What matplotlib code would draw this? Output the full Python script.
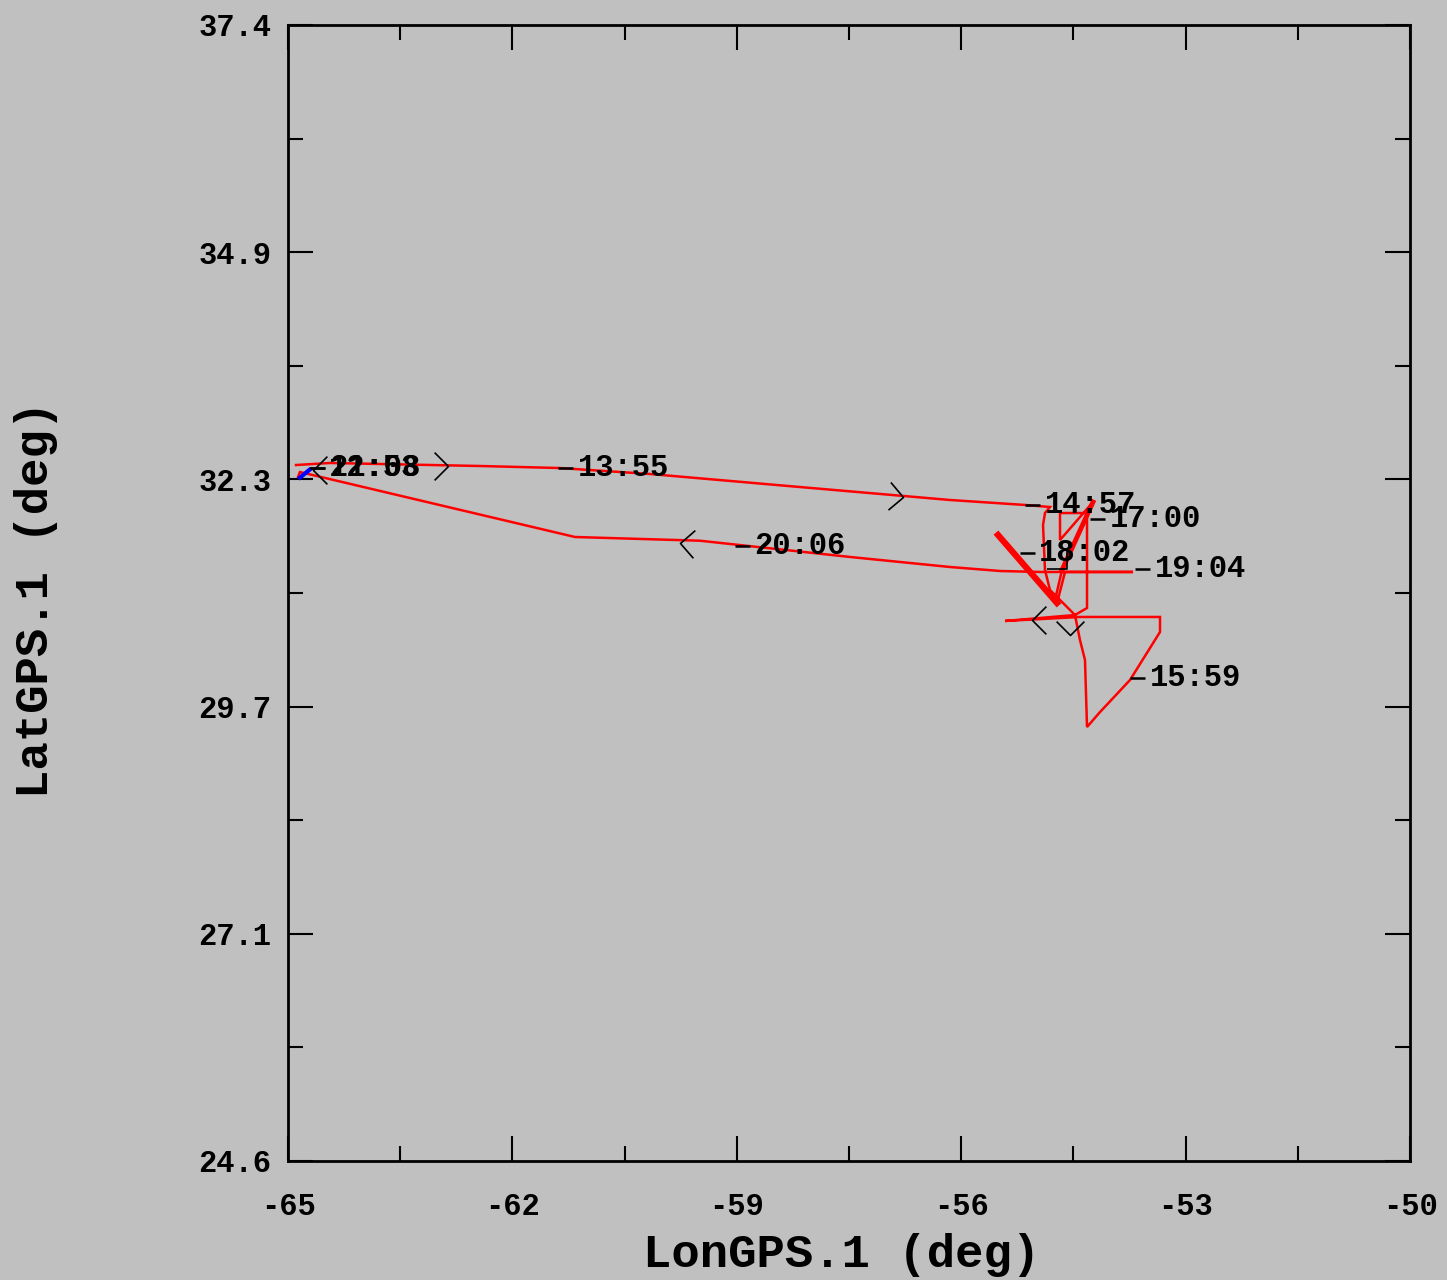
import numpy as np
import matplotlib
matplotlib.use("Agg")
import matplotlib.pyplot as plt
from matplotlib.path import Path
from matplotlib.markers import MarkerStyle
from matplotlib.transforms import Affine2D

# ---------------- data ----------------
track_lon = [-64.893, -64.439, -62.433, -61.364, -60.160, -58.155, -56.150, -55.147, -54.813,
             -54.880, -54.906, -54.880, -54.813, -54.612, -54.479, -54.412, -54.345, -54.318,
             -54.144, -53.743, -53.342, -53.342, -54.412, -55.414, -54.479, -54.318, -54.318,
             -54.679, -54.679, -54.238, -54.652, -54.746, -55.508, -54.719, -54.612, -53.703,
             -54.947, -55.481, -56.150, -57.487, -59.492, -61.163, -64.840, -64.866]
track_lat = [32.442, 32.465, 32.431, 32.408, 32.341, 32.194, 32.048, 31.992, 31.969,
             31.901, 31.766, 31.259, 31.034, 30.865, 30.752, 30.470, 30.245, 29.490,
             29.659, 30.020, 30.561, 30.730, 30.730, 30.685, 30.752, 30.831, 31.901,
             31.901, 31.597, 32.025, 31.259, 30.921, 31.654, 30.887, 31.237, 31.237,
             31.237, 31.248, 31.293, 31.406, 31.589, 31.631, 32.363, 32.307]

# heavily overlapped (thick) portions of the track
dense1_lon = [-55.508, -54.719]
dense1_lat = [31.654, 30.887]
dense2_lon = [-54.238, -54.652]
dense2_lat = [32.025, 31.259]

# short blue segment at start
blue_lon = [-64.84, -64.71]
blue_lat = [32.30, 32.39]

# time labels (position of the tick dash)
time_labels = ["12:53", "21:08", "13:55", "14:57", "15:59", "17:00", "18:02", "19:04", "20:06"]
time_lon = [-64.706, -64.706, -61.39, -55.147, -53.743, -54.278, -55.214, -53.676, -59.024]
time_lat = [32.408, 32.408, 32.408, 31.992, 30.042, 31.834, 31.451, 31.270, 31.530]

# direction chevrons (apex position, heading in degrees)
arrow_lon = [-56.778, -62.861, -64.666, -59.759, -55.053, -54.545, -54.585]
arrow_lat = [32.082, 32.431, 32.386, 31.563, 30.696, 30.527, 31.270]
arrow_dir = [-5, 0, 180, 176, 180, -90, -45]

x_ticks = [-65, -62, -59, -56, -53, -50]
x_ticklabels = ["-65", "-62", "-59", "-56", "-53", "-50"]
y_ticklabels = ["24.6", "27.1", "29.7", "32.3", "34.9", "37.4"]
y_ticks = list(np.linspace(24.6, 37.4, 6))

# ---------------- figure ----------------
BG = "#c0c0c0"
FONT = "Liberation Mono"
fig = plt.figure(figsize=(14.47, 12.8), dpi=100, facecolor=BG)
ax = fig.add_axes([288/1447, 1 - 1161/1280, 1122/1447, 1136/1280])
ax.set_facecolor(BG)

ax.plot(track_lon, track_lat, color="#ff0000", lw=1.8, solid_joinstyle="miter", zorder=3)
ax.plot(dense1_lon, dense1_lat, color="#ff0000", lw=4.5, zorder=3)
ax.plot(dense2_lon, dense2_lat, color="#ff0000", lw=3.5, zorder=3)
ax.plot(blue_lon, blue_lat, color="#0000ff", lw=3, zorder=4)

# chevrons
chev = Path([(-1, 1), (0, 0), (-1, -1)], [Path.MOVETO, Path.LINETO, Path.LINETO])
for lo, la, d in zip(arrow_lon, arrow_lat, arrow_dir):
    m = MarkerStyle(chev, fillstyle="none", transform=Affine2D().rotate_deg(d))
    ax.plot([lo], [la], marker=m, markersize=20, markeredgecolor="black",
            markerfacecolor="none", markeredgewidth=1.2, linestyle="none", zorder=5)

# time labels with dash
dash = Path([(0, 0), (1, 0)], [Path.MOVETO, Path.LINETO])
for t, lo, la in zip(time_labels, time_lon, time_lat):
    ax.plot([lo], [la], marker=MarkerStyle(dash), markersize=22, markeredgecolor="black",
            markeredgewidth=1.8, linestyle="none", zorder=5)
    ax.annotate(t, xy=(lo, la), xytext=(14, 0), textcoords="offset points",
                ha="left", va="center", fontsize=22, fontfamily=FONT,
                fontweight="bold", color="black", zorder=6)

ax.set_xlim(-65, -50)
ax.set_ylim(24.6, 37.4)
ax.set_xticks(x_ticks)
ax.set_xticklabels(x_ticklabels)
ax.set_yticks(y_ticks)
ax.set_yticklabels(y_ticklabels)
ax.set_xticks([-63.5, -60.5, -57.5, -54.5, -51.5], minor=True)
ax.set_yticks(list(np.linspace(24.6, 37.4, 11)[1::2]), minor=True)

ax.tick_params(which="both", direction="in", top=True, right=True, color="black")
ax.tick_params(which="major", length=18, width=1.5)
ax.tick_params(which="minor", length=11, width=1.5)
ax.tick_params(axis="x", which="major", pad=22)
ax.tick_params(axis="y", which="major", pad=12)
for lab in ax.get_xticklabels() + ax.get_yticklabels():
    lab.set_fontfamily(FONT)
    lab.set_fontweight("bold")
    lab.set_fontsize(22)

for s in ax.spines.values():
    s.set_linewidth(2)
    s.set_color("black")

ax.set_xlabel("LonGPS.1 (deg)", fontsize=34, fontfamily=FONT, fontweight="bold")
ax.set_ylabel("LatGPS.1 (deg)", fontsize=34, fontfamily=FONT, fontweight="bold")
ax.xaxis.set_label_coords(0.493, -0.063)
ax.yaxis.set_label_coords(-0.205, 0.494)

fig.savefig("out.png", dpi=100, facecolor=BG)
